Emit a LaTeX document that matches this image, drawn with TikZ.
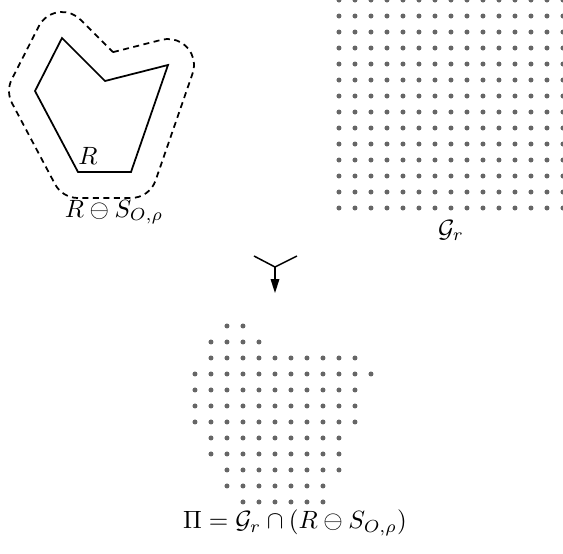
\documentclass[tikz,border=0pt]{standalone}
\usetikzlibrary{arrows.meta,calc}

\tikzset{
    griddot/.style={fill=black!60},
    region/.style={line width=0.7pt, line join=miter},
    dilated/.style={line width=0.7pt, dash pattern=on 2.4pt off 1.8pt},
    merge/.style={line width=0.6pt},
}

\begin{document}
\begin{tikzpicture}[x=0.4pt,y=-0.4pt]
    \useasboundingbox (0,0) rectangle (563,554);
    \def\rr{26}

    % region R and its dilation
    \begin{scope}
        \coordinate (A) at (62,38);
        \coordinate (B) at (105,81);
        \coordinate (C) at (168,65);
        \coordinate (D) at (131,172);
        \coordinate (E) at (78,172);
        \coordinate (F) at (35,91);
        \coordinate (Bo) at (112.93,52.16);

        \draw[region] (A) -- (B) -- (C) -- (D) -- (E) -- (F) -- cycle;
        \draw[dilated] (Bo) -- ($(C)+(-104.25:\rr)$)
            arc[start angle=-104.25, end angle=19.07, radius=\rr]
            -- ($(D)+(19.07:\rr)$) arc[start angle=19.07, end angle=90, radius=\rr]
            -- ($(E)+(90:\rr)$) arc[start angle=90, end angle=152.04, radius=\rr]
            -- ($(F)+(152.04:\rr)$) arc[start angle=152.04, end angle=207, radius=\rr]
            -- ($(A)+(207:\rr)$) arc[start angle=207, end angle=315, radius=\rr]
            -- cycle;

        \node (rname) at (88,156) {$R$};
        \node[anchor=base] (rdil) at (114,217) {$R \ominus S_{O,\rho}$};
    \end{scope}

    % the grid G_r
    \begin{scope}
        \foreach \col in {0,...,14} {
            \foreach \row in {0,...,13} {
                \fill[griddot] (339+16*\col,16*\row) circle (2.5);
            }
        }
        \node[anchor=base] (gname) at (451,237) {$\mathcal{G}_r$};
    \end{scope}

    % merge arrow
    \coordinate (inL) at (254,256);
    \coordinate (inR) at (297,256);
    \coordinate (join) at (275,267);
    \coordinate (out) at (275,293);
    \draw[merge] (inL) -- (join) -- (inR);
    \draw[merge, -{Triangle[length=5.5pt,width=3.4pt]}] (join) -- (out);

    % the intersection Pi
    \begin{scope}
        \foreach \row/\first/\last in {0/2/3, 1/1/4, 2/1/10, 3/0/11, 4/0/10, 5/0/10,
                                       6/0/10, 7/1/9, 8/1/9, 9/2/9, 10/2/8, 11/3/8} {
            \foreach \col in {\first,...,\last} {
                \fill[griddot] (195+16*\col,326+16*\row) circle (2.5);
            }
        }
        \node[anchor=base] (piname) at (295,529) {$\Pi = \mathcal{G}_r \cap (R \ominus S_{O,\rho})$};
    \end{scope}
\end{tikzpicture}
\end{document}
